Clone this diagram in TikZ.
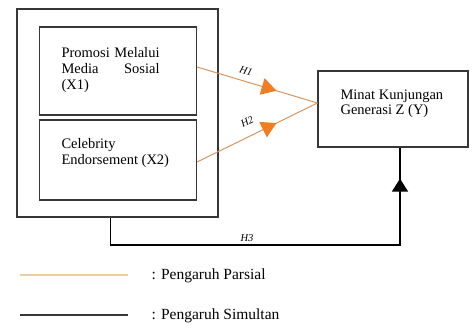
\documentclass[tikz,border=0pt]{standalone}
\usepackage{fontspec}
\setmainfont{Liberation Serif}
\usetikzlibrary{arrows.meta,decorations.markings}
\definecolor{parsial}{RGB}{214,150,98}
\definecolor{oranye}{RGB}{240,125,35}
\definecolor{garis}{RGB}{55,55,55}
\definecolor{pucat}{RGB}{238,205,160}
\begin{document}
\begin{tikzpicture}[x=1pt,y=-1pt,
	kotak/.style={draw=garis,line width=1.1pt},
	teks/.style={font=\fontsize{14.5}{16}\selectfont,anchor=west},
	hlabel/.style={font=\fontsize{10.5}{10.5}\selectfont\itshape,inner sep=1pt},
	parsialpanah/.style={draw=parsial,line width=1pt,postaction={decorate},
		decoration={markings,mark=at position 0.66 with {\arrow[oranye]{Triangle[length=15pt,width=17pt]}}}},
	simultan/.style={draw=black,line width=1.4pt,postaction={decorate},
		decoration={markings,mark=at position 0.925 with {\arrow{Triangle[length=13pt,width=16pt]}}}}]

		\useasboundingbox (0,0) rectangle (473,327);

		% Kotak luar (X1 dan X2)
		\node[kotak,minimum width=201pt,minimum height=208pt] (luar) at (117.5,113) {};

		% Variabel X1 dan X2
		\node[kotak,minimum width=157pt,minimum height=88pt] (x1) at (118,71) {};
		\node[kotak,minimum width=157pt,minimum height=80pt] (x2) at (118,160) {};
		\node[teks,text width=98pt,align=justify] (tx1) at (58,70) {Promosi Melalui Media Sosial (X1)};
		\node[teks,align=left] (tx2) at (58,153) {Celebrity\\Endorsement (X2)};

		% Variabel Y
		\node[kotak,minimum width=150pt,minimum height=76pt] (y) at (393,109) {};
		\node[teks,align=left,font=\fontsize{14.5}{15}\selectfont] (ty) at (337,104) {Minat Kunjungan\\Generasi Z (Y)};

		% Pengaruh parsial H1 dan H2
		\coordinate (temu) at ([yshift=6pt]y.west);
		\draw[parsialpanah] ([yshift=4pt]x1.east) -- (temu);
		\draw[parsialpanah] ([yshift=-2pt]x2.east) -- (temu);
		\node[hlabel,rotate=-17] (h1) at (246,71) {H1};
		\node[hlabel,rotate=26] (h2) at (247,122) {H2};

		% Pengaruh simultan H3
		\coordinate (a) at ([xshift=-7pt]luar.south);
		\coordinate (b) at ([xshift=7pt]y.south);
		\coordinate (dasar) at (0,245);
		\draw[simultan] (a) -- (a |- dasar) -- (b |- dasar) -- (b);
		\node[hlabel] (h3) at (247,238) {H3};

		% Keterangan
		\coordinate (k1a) at (20,275);
		\coordinate (k1b) at (128,275);
		\coordinate (k2a) at (20,315);
		\coordinate (k2b) at (128,315);
		\draw[pucat,line width=2.5pt] (k1a) -- (k1b);
		\draw[garis,line width=2.2pt] (k2a) -- (k2b);
		\node[teks,font=\fontsize{15.5}{16}\selectfont] (ket1) at (148,276) {: Pengaruh Parsial};
		\node[teks,font=\fontsize{15.5}{16}\selectfont] (ket2) at (148,316) {: Pengaruh Simultan};

	\end{tikzpicture}
\end{document}
